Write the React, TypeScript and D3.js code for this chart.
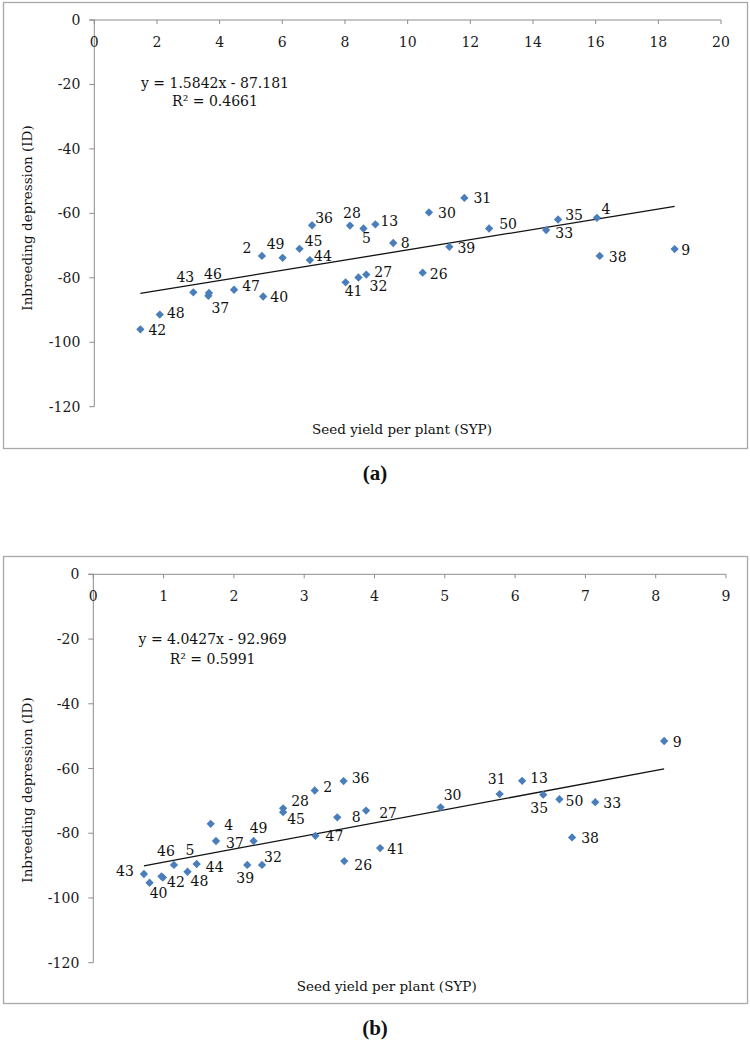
import React from "react";
import * as d3 from "d3";

// ---------- Data: chart (a) ----------
const idsA = ["42","48","43","46","37","47","40","2","49","45","44","36","28","41","5","13","8","32","27","31","30","50","39","26","35","33","4","38","9"];
const sypA = [1.47,2.09,3.16,3.66,3.64,4.46,5.39,5.35,6.01,6.55,6.88,6.95,8.16,8.02,8.59,8.97,9.54,8.43,8.68,11.81,10.68,12.60,11.33,10.48,14.80,14.42,16.04,16.13,18.52];
const idA = [-96.0,-91.4,-84.5,-84.7,-85.6,-83.7,-85.8,-73.2,-73.8,-71.0,-74.5,-63.7,-63.8,-81.4,-64.7,-63.4,-69.2,-79.9,-79.0,-55.2,-59.7,-64.7,-70.4,-78.4,-61.9,-65.2,-61.4,-73.2,-71.1];
const xTicksA = [0,2,4,6,8,10,12,14,16,18,20];
const slopeA = 1.5842, interceptA = -87.181;
const eqA = "y = 1.5842x - 87.181";
const r2A = "R² = 0.4661";

// ---------- Data: chart (b) ----------
const idsB = ["43","40","42","5","46","48","44","4","37","49","39","32","28","45","2","36","47","8","26","27","41","30","31","13","35","50","33","38","9"];
const sypB = [0.72,0.80,0.99,0.97,1.147,1.34,1.47,1.67,1.745,2.28,2.19,2.40,2.70,2.70,3.15,3.56,3.16,3.47,3.57,3.88,4.08,4.94,5.78,6.10,6.40,6.63,7.14,6.81,8.12];
const idB = [-92.6,-95.3,-93.7,-93.3,-89.8,-91.9,-89.5,-77.1,-82.4,-82.4,-89.8,-89.8,-72.3,-73.5,-66.8,-63.9,-80.8,-75.1,-88.6,-73.0,-84.6,-72.0,-67.9,-63.8,-68.1,-69.5,-70.4,-81.3,-51.5];
const xTicksB = [0,1,2,3,4,5,6,7,8,9];
const slopeB = 4.0427, interceptB = -92.969;
const eqB = "y = 4.0427x - 92.969";
const r2B = "R² = 0.5991";

const yTicks = [0,-20,-40,-60,-80,-100,-120];

// ---------- Label layout (offsets of label centre from marker, px) ----------
const labelOffA: [number, number][] = [
  [17,1],[16,-2],[-8,-15],[4,-19],[12,12],[17,-4],[16,1],[-15,-8],[-7,-14],[14,-8],[13,-4],[12,-7],[2,-13],[8,9],[3,10],
  [14,-3],[12,0],[20,9],[17,-3],[18,0],[18,1],[19,-4],[17,1],[16,1],[16,-4],[18,3],[9,-9],[18,1],[11,1]
];
const labelOffB: [number, number][] = [
  [-19,-3],[9,10],[13,4],[28.5,-26],[-8,-14],[12,9],[18,3],[18,1],[19,2],[5,-13],[-2,13],[11,-8],[17,-7],[13,7],[13,-4],
  [17,-3],[19,0],[19,0],[19,4],[22,2],[16,1],[12,-12],[-3,-15],[17,-3],[-4,13],[15,2],[17,1],[18,1],[13,1]
];

const FONT = "'DejaVu Serif', serif";
const AXIS = "#8c8c8c";
const BLUE = "#4a7ebb";

type ChartProps = {
  frame: { x0: number; y0: number; x1: number; y1: number };
  plot: { left: number; right: number; top: number; bottom: number };
  xMax: number;
  xTicks: number[];
  ids: string[];
  xs: number[];
  ys: number[];
  offs: [number, number][];
  slope: number;
  intercept: number;
  eq: string;
  r2: string;
  eqPos: { x: number; y1: number; y2: number };
  yTitle: { x: number; y: number };
  xTitle: { x: number; y: number };
};

function Chart(p: ChartProps) {
  const x = d3.scaleLinear().domain([0, p.xMax]).range([p.plot.left, p.plot.right]);
  const y = d3.scaleLinear().domain([0, -120]).range([p.plot.top, p.plot.bottom]);
  const xmin = d3.min(p.xs) as number;
  const xmax = d3.max(p.xs) as number;
  const line = d3.line<number>().x((v) => x(v)).y((v) => y(p.slope * v + p.intercept));
  const diamond = d3.symbol().type(d3.symbolDiamond2).size(44)();
  return (
    <g fontFamily={FONT}>
      <rect x={p.frame.x0} y={p.frame.y0} width={p.frame.x1 - p.frame.x0} height={p.frame.y1 - p.frame.y0}
        fill="white" stroke="#a8a8a8" strokeWidth={1.3} />
      {/* y axis */}
      <line x1={x(0)} x2={x(0)} y1={y(0)} y2={y(-120)} stroke={AXIS} strokeWidth={1} />
      {yTicks.map((t) => (
        <g key={"y" + t}>
          <line x1={x(0) - 5} x2={x(0)} y1={y(t)} y2={y(t)} stroke={AXIS} />
          <text x={x(0) - 14} y={y(t)} textAnchor="end" dominantBaseline="central" fontSize={14} fill="#1a1a1a">
            {t < 0 ? "-" + Math.abs(t) : String(t)}
          </text>
        </g>
      ))}
      {/* x axis */}
      <line x1={x(0) - 5} x2={x(p.xMax)} y1={y(0)} y2={y(0)} stroke={AXIS} strokeWidth={1} />
      {p.xTicks.map((t) => (
        <g key={"x" + t}>
          <line x1={x(t)} x2={x(t)} y1={y(0)} y2={y(0) + 4} stroke={AXIS} />
          <text x={x(t)} y={y(0) + 22} textAnchor="middle" dominantBaseline="central" fontSize={14} fill="#1a1a1a">
            {t}
          </text>
        </g>
      ))}
      {/* trend line */}
      <path d={line([xmin, xmax]) || ""} stroke="#111" strokeWidth={1.3} fill="none" />
      {/* points */}
      {p.xs.map((v, i) => (
        <path key={"p" + i} d={diamond} transform={`translate(${x(v)},${y(p.ys[i])})`} fill={BLUE} />
      ))}
      {p.xs.map((v, i) => (
        <text key={"l" + i} x={x(v) + p.offs[i][0]} y={y(p.ys[i]) + p.offs[i][1]} textAnchor="middle"
          dominantBaseline="central" fontSize={14} fill="#111">
          {p.ids[i]}
        </text>
      ))}
      {/* equation */}
      <text x={p.eqPos.x} y={p.eqPos.y1} textAnchor="middle" dominantBaseline="central" fontSize={14} fill="#111">{p.eq}</text>
      <text x={p.eqPos.x} y={p.eqPos.y2} textAnchor="middle" dominantBaseline="central" fontSize={14} fill="#111">{p.r2}</text>
      {/* titles */}
      <text transform={`translate(${p.yTitle.x},${p.yTitle.y}) rotate(-90)`} textAnchor="middle" dominantBaseline="central"
        fontSize={13.5} fill="#111">Inbreeding depression (ID)</text>
      <text x={p.xTitle.x} y={p.xTitle.y} textAnchor="middle" dominantBaseline="central" fontSize={13.5} fill="#111">
        Seed yield per plant (SYP)
      </text>
    </g>
  );
}

export default function App() {
  return (
    <svg width={750} height={1040} style={{ position: "absolute", left: 0, top: 0, background: "white" }}>
      <rect width={750} height={1040} fill="white" />
      <Chart
        frame={{ x0: 3.5, y0: 2.5, x1: 747.5, y1: 448.5 }}
        plot={{ left: 94.3, right: 721, top: 20, bottom: 406.7 }}
        xMax={20} xTicks={xTicksA} ids={idsA} xs={sypA} ys={idA} offs={labelOffA}
        slope={slopeA} intercept={interceptA} eq={eqA} r2={r2A}
        eqPos={{ x: 215, y1: 82.7, y2: 101 }}
        yTitle={{ x: 27, y: 218 }} xTitle={{ x: 402, y: 428.5 }}
      />
      <text x={375} y={473} textAnchor="middle" dominantBaseline="central" fontFamily="'Liberation Serif', serif"
        fontWeight="bold" fontSize={21} fill="#111">(a)</text>
      <Chart
        frame={{ x0: 3.5, y0: 556.5, x1: 747.5, y1: 1003.5 }}
        plot={{ left: 93.3, right: 726, top: 574.3, bottom: 962.7 }}
        xMax={9} xTicks={xTicksB} ids={idsB} xs={sypB} ys={idB} offs={labelOffB}
        slope={slopeB} intercept={interceptB} eq={eqB} r2={r2B}
        eqPos={{ x: 212.6, y1: 639.3, y2: 658.7 }}
        yTitle={{ x: 27, y: 790 }} xTitle={{ x: 386.7, y: 986 }}
      />
      <text x={375} y={1028} textAnchor="middle" dominantBaseline="central" fontFamily="'Liberation Serif', serif"
        fontWeight="bold" fontSize={21} fill="#111">(b)</text>
    </svg>
  );
}
